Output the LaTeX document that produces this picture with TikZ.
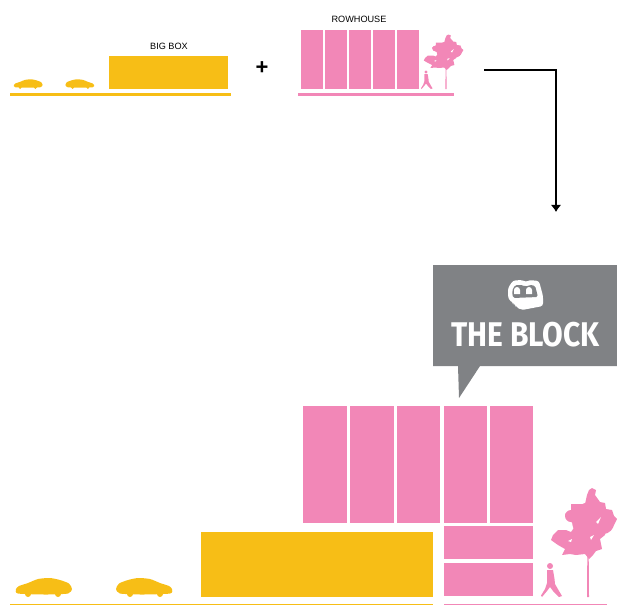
\documentclass[tikz,border=0pt]{standalone}
\usepackage{fontspec}
\setmainfont{Liberation Sans}
\newfontfamily\blockfont{Fira Sans}
\usepackage{tikz}
\usetikzlibrary{positioning,arrows.meta,calc}
\definecolor{yel}{HTML}{F7BE16}
\definecolor{pnk}{HTML}{F287B7}
\definecolor{gry}{HTML}{808285}
\tikzset{
  lbl/.style={font=\fontsize{5.2pt}{6pt}\selectfont,inner sep=0pt},
  carpic/.pic={
    \fill plot[smooth cycle,tension=0.4] coordinates{(0,-8)(3,-11)(12,-14)(22,-18)(34,-19)(44,-17)(53,-13.5)(56,-8)(52,-3.5)(30,-2.5)(2,-3.5)};
    \fill (12,-3) circle (3) (42,-3) circle (3);
  },
  treepic/.pic={
    \fill (-1,0)--(-0.7,-40)--(0.7,-40)--(1,0)--cycle;
    \fill (4,-109)--(8,-107)--(7,-102)--(12,-95)--(17,-94)--(18,-88)--(24,-87)--(26,-81)--(29,-78)--(26,-72)--(23,-67)--(18,-67)--(17,-62)--(12,-58)--(14,-48)--(8,-46)--(5,-42)--(1,-38)--(-3,-43)--(-12,-42)--(-18,-43)--(-26,-42)--(-23,-48)--(-30,-52)--(-37,-57)--(-35,-62)--(-30,-67)--(-22,-67)--(-17,-65)--(-12,-72)--(-20,-77)--(-23,-83)--(-17,-87)--(-17,-93)--(-8,-93)--(-3,-93)--(-1,-102)--(1,-107)--cycle;
    \fill (3,-76) circle (19) (-7,-56) circle (12) (-22,-57) circle (7) (-17,-81) circle (6) (15,-74) circle (11);
    \fill[white] (8,-75)--(13,-80)--(10,-73)--cycle (-20,-56)--(-16,-58)--(-17,-55)--cycle (2,-60)--(6,-62)--(3,-57)--cycle;
  },
  walkerpic/.pic={
    \fill (0,-31) circle (3);
    \fill (-3,-27)--(3,-27)--(4.5,-18)--(5,-13)--(9,-6)--(12,-1)--(9,0)--(3,-6)--(0,-10)--(-3,-6)--(-8,0)--(-9,-1.5)--(-5,-8)--(-3,-14)--cycle;
  },
}
\begin{document}
\begin{tikzpicture}[x=0.02cm,y=-0.02cm]
  \useasboundingbox (0,0) rectangle (617,605);
  % top row
  \fill[yel] (109,56) rectangle (228,89);
  \fill[yel] (10,93) rectangle (231,95.5);
  \path (14,89) pic[yel,scale=0.51]{carpic};
  \path (94,89) pic[yel,xscale=-0.51,yscale=0.51]{carpic};
  \node[lbl] (bigboxlabel) at (169,46){BIG BOX};
  \node[font=\bfseries\fontsize{12.5pt}{13pt}\selectfont,inner sep=0pt] (plussign) at (262,68){+};
  \foreach \x/\xx in {301/323,325/347,349/371,373/394.5,397/419}
    \fill[pnk] (\x,30) rectangle (\xx,89);
  \fill[pnk] (298,93) rectangle (454,95.5);
  \path (426,89) pic[pnk,scale=0.55]{walkerpic};
  \path (446,89) pic[pnk,xscale=0.6,yscale=0.5]{treepic};
  \node[lbl] (rowhouselabel) at (359,19){ROWHOUSE};
  % arrow
  \coordinate (arrowstart) at (484,70);
  \coordinate (arrowend) at (556,212);
  \draw[line width=1.5pt,-{Latex[length=4pt,width=6pt]}] (arrowstart) -| (arrowend);
  % speech bubble
  \fill[gry] (433,265)--(617,265)--(617,366)--(480,366)--(459,398)--(458,366)--(433,366)--cycle;
  \fill[white,rounded corners=1.5pt] (508,288)--(513,280.5)--(523,280)--(525.5,282.5)--(529,280)--(539,281)--(543,296)--(543,306)--(522,310)--(516,307)--(516,304.5)--(513,304.5)--(513,301.5)--(510,301.5)--(508,297)--cycle;
  \fill[gry,rounded corners=1pt] (512,291)--(515,285)--(523,285)--(525.5,287)--(529,285)--(535,285.5)--(538,297)--(513,298)--cycle;
  \fill[white] (514,294)--(514,290) arc[start angle=-180,end angle=0,radius=3]--(520,294)--cycle;
  \fill[white] (526,294)--(526,290) arc[start angle=-180,end angle=0,radius=3]--(532,294)--cycle;
  \node[white,inner sep=0pt,font=\blockfont\bfseries\fontsize{19.5pt}{20pt}\selectfont] (blocktitle) at (525.5,334.5){\scalebox{0.875}[1]{THE BLOCK}};
  % bottom row
  \foreach \x/\xx in {303/347,350/393.5,396.5/440,443.5/487,490/533}
    \fill[pnk] (\x,406) rectangle (\xx,522.5);
  \fill[pnk] (443.5,526) rectangle (533,559);
  \fill[pnk] (443.5,563) rectangle (533,596);
  \fill[yel] (201,532) rectangle (433,596.5);
  \fill[yel] (10,603.5) rectangle (433,605);
  \fill[pnk] (443.5,603.5) rectangle (607,605);
  \path (16,597) pic[yel]{carpic};
  \path (172,597) pic[yel,xscale=-1]{carpic};
  \path (550,597) pic[pnk]{walkerpic};
  \path (588,597) pic[pnk]{treepic};
\end{tikzpicture}
\end{document}
